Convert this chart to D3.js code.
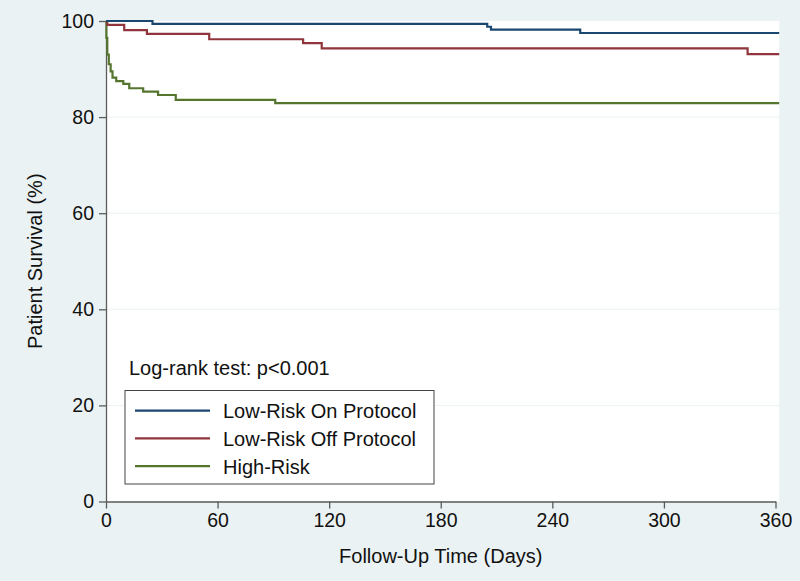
<!DOCTYPE html>
<html>
<head>
<meta charset="utf-8">
<script src="https://cdn.jsdelivr.net/npm/d3@7"></script>
<style>
  html, body { margin: 0; padding: 0; background: #eaf2f3; }
  svg { display: block; font-family: "Liberation Sans", Arial, sans-serif; }
</style>
</head>
<body>
<svg id="chart" width="800" height="581"></svg>
<script>
// ---- Data ----
const seriesNames = ["Low-Risk On Protocol", "Low-Risk Off Protocol", "High-Risk"];
const seriesColors = ["#1a476f", "#90353b", "#55752f"];

const onProtocolDays   = [0, 25, 205, 207, 255, 362];
const onProtocolSurv   = [100, 99.4, 98.8, 98.2, 97.5, 97.5];

const offProtocolDays  = [0, 0.7, 9.8, 22, 55.5, 106, 116, 345, 362];
const offProtocolSurv  = [100, 99.2, 98.1, 97.3, 96.2, 95.4, 94.3, 93.1, 93.1];

const highRiskDays     = [0, 0.2, 0.7, 1.5, 2.5, 3.5, 5.5, 9.3, 12.5, 20, 28, 37.5, 91, 362];
const highRiskSurv     = [100, 96.5, 93, 91, 89.5, 88.2, 87.5, 86.9, 86.0, 85.3, 84.6, 83.6, 82.9, 82.9];

const xTickValues = [0, 60, 120, 180, 240, 300, 360];
const yTickValues = [0, 20, 40, 60, 80, 100];

const xTitle = "Follow-Up Time (Days)";
const yTitle = "Patient Survival (%)";
const annotation = "Log-rank test: p<0.001";

// ---- Layout ----
const svg = d3.select("#chart");
const W = 800, H = 581;
const x = d3.scaleLinear().domain([0, 360]).range([106, 775.5]);
const y = d3.scaleLinear().domain([0, 100]).range([501.5, 21]);

svg.append("rect").attr("width", W).attr("height", H).attr("fill", "#eaf2f3");

// plot region
svg.append("rect")
  .attr("x", x(0)).attr("y", y(100))
  .attr("width", x(362) - x(0)).attr("height", y(0) - y(100))
  .attr("fill", "#ffffff");

// grid lines
svg.append("g").selectAll("line")
  .data(yTickValues.filter(d => d > 0 && d < 100))
  .join("line")
  .attr("x1", x(0)).attr("x2", x(362))
  .attr("y1", d => y(d)).attr("y2", d => y(d))
  .attr("stroke", "#eaf2f3").attr("stroke-width", 1);

// axes
const axisColor = "#5b5b5b";
const yAxis = svg.append("g")
  .attr("transform", `translate(${x(0)},0)`)
  .call(d3.axisLeft(y).tickValues(yTickValues).tickSize(7).tickPadding(5).tickSizeOuter(0));
const xAxis = svg.append("g")
  .attr("transform", `translate(0,${y(0)})`)
  .call(d3.axisBottom(x).tickValues(xTickValues).tickSize(7).tickPadding(5).tickSizeOuter(0));

[xAxis, yAxis].forEach(g => {
  g.select(".domain").attr("stroke", axisColor).attr("stroke-width", 1.3);
  g.selectAll(".tick line").attr("stroke", axisColor).attr("stroke-width", 1.3);
  g.selectAll(".tick text").attr("fill", "#111").attr("font-size", 19.5)
    .attr("font-family", "Liberation Sans, Arial, sans-serif");
});

// axis titles
svg.append("text")
  .attr("x", (x(0) + x(360)) / 2).attr("y", 563)
  .attr("text-anchor", "middle").attr("font-size", 20).attr("fill", "#111")
  .text(xTitle);
svg.append("text")
  .attr("transform", `translate(42,${(y(0) + y(100)) / 2}) rotate(-90)`)
  .attr("text-anchor", "middle").attr("font-size", 20).attr("fill", "#111")
  .text(yTitle);

// curves
const series = [
  { name: seriesNames[0], days: onProtocolDays, surv: onProtocolSurv, color: seriesColors[0] },
  { name: seriesNames[1], days: offProtocolDays, surv: offProtocolSurv, color: seriesColors[1] },
  { name: seriesNames[2], days: highRiskDays, surv: highRiskSurv, color: seriesColors[2] }
];
const line = d3.line().x(d => x(d[0])).y(d => y(d[1])).curve(d3.curveStepAfter);
svg.append("g").selectAll("path")
  .data(series.slice().reverse())
  .join("path")
  .attr("d", s => line(s.days.map((d, i) => [d, s.surv[i]])))
  .attr("fill", "none")
  .attr("stroke", s => s.color)
  .attr("stroke-width", 2.2);

// annotation
svg.append("text")
  .attr("x", 129).attr("y", 375)
  .attr("font-size", 20).attr("fill", "#111")
  .text(annotation);

// legend
const lg = svg.append("g");
lg.append("rect")
  .attr("x", 125).attr("y", 390.5).attr("width", 309).attr("height", 93.5)
  .attr("fill", "#ffffff").attr("stroke", "#444").attr("stroke-width", 1);
const items = lg.selectAll("g.item").data(series).join("g")
  .attr("transform", (d, i) => `translate(0,${410.7 + i * 27.7})`);
items.append("line")
  .attr("x1", 135).attr("x2", 210).attr("y1", 0).attr("y2", 0)
  .attr("stroke", d => d.color).attr("stroke-width", 2.2);
items.append("text")
  .attr("x", 223).attr("y", 7.5)
  .attr("font-size", 20).attr("fill", "#111")
  .text(d => d.name);
</script>
</body>
</html>
